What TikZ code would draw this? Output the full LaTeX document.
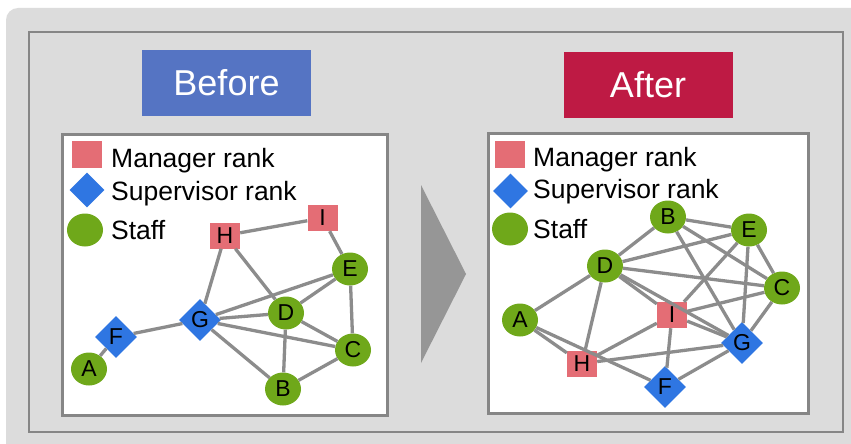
\documentclass[tikz,border=0pt]{standalone}
\usepackage{fontspec}
\setmainfont{Liberation Sans}
\usetikzlibrary{shapes.geometric}
\definecolor{bgc}{HTML}{DCDCDC}
\definecolor{framec}{HTML}{868686}
\definecolor{beforec}{HTML}{5574C3}
\definecolor{afterc}{HTML}{BE1A44}
\definecolor{mgrc}{HTML}{E46D75}
\definecolor{supc}{HTML}{2F76E2}
\definecolor{stfc}{HTML}{6FA81A}
\definecolor{edgec}{HTML}{8C8C8C}
\definecolor{arrowc}{HTML}{969696}
\tikzset{
  mgr/.style={rectangle, fill=mgrc, minimum width=30pt, minimum height=26pt, inner sep=0pt, font=\fontsize{23}{23}\selectfont},
  sup/.style={diamond, fill=supc, minimum width=42pt, minimum height=42pt, inner sep=0pt, font=\fontsize{23}{23}\selectfont},
  stf/.style={ellipse, fill=stfc, minimum width=36pt, minimum height=33pt, inner sep=0pt, font=\fontsize{23}{23}\selectfont},
  lmgr/.style={rectangle, fill=mgrc, minimum width=30pt, minimum height=27pt, inner sep=0pt},
  lsup/.style={diamond, fill=supc, minimum width=35pt, minimum height=35pt, inner sep=0pt},
  lstf/.style={ellipse, fill=stfc, minimum width=36pt, minimum height=33pt, inner sep=0pt},
  legtext/.style={anchor=base west, inner sep=0pt, font=\fontsize{26.5}{26.5}\selectfont},
  lnk/.style={draw=edgec, line width=3.3pt},
  panel/.style={draw=framec, line width=3pt, fill=white},
  title/.style={minimum width=169pt, minimum height=66pt, inner sep=0pt, text=white, font=\fontsize{36}{36}\selectfont}
}
\begin{document}
\begin{tikzpicture}[x=1pt,y=-1pt]
\useasboundingbox (0,0) rectangle (851,444);
\begin{scope}
\clip (0,0) rectangle (851,444);
\fill[white] (0,0) rectangle (851,444);
\fill[bgc, rounded corners=12pt] (6,8) rectangle (880,470);
\end{scope}
\draw[framec, line width=1.8pt] (29,32) rectangle (843,432);
\node[title, fill=beforec] (before) at (226.5,83) {Before};
\node[title, fill=afterc] (after) at (648,85) {After};
\fill[arrowc] (421,185) -- (466,274) -- (421,363) -- cycle;
% left panel
\draw[panel] (62,134) rectangle (387,415);
\node[lmgr] (lm1) at (87,154.5) {};
\node[lsup] (ls1) at (87,190) {};
\node[lstf] (lf1) at (85,230) {};
\node[legtext] (tm1) at (111,167) {Manager rank};
\node[legtext] (ts1) at (111,200) {Supervisor rank};
\node[legtext] (tf1) at (111,239) {Staff};
\node[mgr] (H1) at (225,235.5) {H};
\node[mgr] (I1) at (322.5,218) {I};
\node[stf] (E1) at (350,269) {E};
\node[stf] (D1) at (286,313) {D};
\node[sup] (G1) at (200,320) {G};
\node[sup] (F1) at (116,337) {F};
\node[stf] (A1) at (89,369) {A};
\node[stf] (C1) at (353,350) {C};
\node[stf] (B1) at (283,389) {B};
\foreach \a/\b in {H1/I1, I1/E1, H1/G1, H1/D1, G1/E1, G1/D1, G1/C1, G1/B1, G1/F1, F1/A1, D1/E1, D1/C1, D1/B1, E1/C1, C1/B1}
  \draw[lnk] (\a) -- (\b);
% right panel
\draw[panel] (488,133) rectangle (808,413);
\node[lmgr] (lm2) at (510,154.5) {};
\node[lsup] (ls2) at (510.5,191) {};
\node[lstf] (lf2) at (510,229) {};
\node[legtext] (tm2) at (533,166) {Manager rank};
\node[legtext] (ts2) at (533,198.5) {Supervisor rank};
\node[legtext] (tf2) at (533,238) {Staff};
\node[stf] (B2) at (668,217) {B};
\node[stf] (E2) at (749,230) {E};
\node[stf] (D2) at (605,266) {D};
\node[stf] (C2) at (782,288) {C};
\node[stf] (A2) at (520,320) {A};
\node[mgr] (I2) at (672,315) {I};
\node[sup] (G2) at (742,343) {G};
\node[mgr] (H2) at (582,363.5) {H};
\node[sup] (F2) at (665,387) {F};
\foreach \a/\b in {B2/D2, B2/E2, B2/C2, B2/G2, D2/E2, D2/C2, D2/I2, D2/G2, A2/D2, D2/H2, A2/H2, A2/F2, H2/I2, H2/G2, I2/E2, I2/C2, I2/G2, I2/F2, F2/G2, E2/G2, E2/C2, C2/G2}
  \draw[lnk] (\a) -- (\b);
\end{tikzpicture}
\end{document}
